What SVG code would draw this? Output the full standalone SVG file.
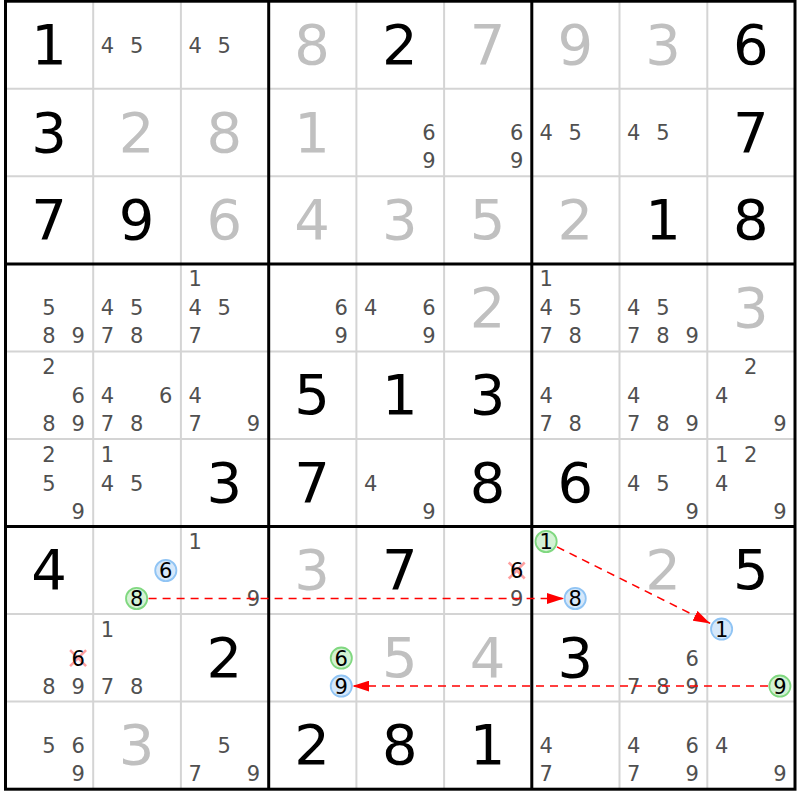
<svg xmlns="http://www.w3.org/2000/svg" width="800" height="800" viewBox="0 0 800 800">
<style>
text{font-family:"DejaVu Sans",Verdana,sans-serif;text-anchor:middle}
.g{font-size:56px;fill:#000}
.s{font-size:56px;fill:#c0c0c0}
.c{font-size:21px;fill:#505050}
.h{font-size:21px;fill:#000}
.gc{fill:#d4f2d4;stroke:#80d880;stroke-width:1.8}
.bc{fill:#d6e8fa;stroke:#90c4f4;stroke-width:1.8}
.x{stroke:#ff7f7f;stroke-width:2.5;opacity:0.75;fill:none}
.thin{stroke:#d4d4d4;stroke-width:2}
.thick{stroke:#000;stroke-width:3}
.link{stroke:#ff0000;stroke-width:1.5;stroke-dasharray:8,6;fill:none}
</style>
<defs>
<marker id="ah" markerWidth="17" markerHeight="11" refX="17" refY="5.5" orient="auto" markerUnits="userSpaceOnUse"><path d="M0,0 L17,5.5 L0,11 z" fill="#ff0000"/></marker>
</defs>
<rect width="800" height="800" fill="#fff"/>
<g id="grid">
<g class="thin">
<line x1="93.2" y1="1.2" x2="93.2" y2="789.2"/><line x1="180.9" y1="1.2" x2="180.9" y2="789.2"/>
<line x1="356.4" y1="1.2" x2="356.4" y2="789.2"/><line x1="444.1" y1="1.2" x2="444.1" y2="789.2"/>
<line x1="619.5" y1="1.2" x2="619.5" y2="789.2"/><line x1="707.3" y1="1.2" x2="707.3" y2="789.2"/>
<line x1="5.5" y1="88.8" x2="795" y2="88.8"/><line x1="5.5" y1="176.3" x2="795" y2="176.3"/>
<line x1="5.5" y1="351.4" x2="795" y2="351.4"/><line x1="5.5" y1="439" x2="795" y2="439"/>
<line x1="5.5" y1="614.1" x2="795" y2="614.1"/><line x1="5.5" y1="701.6" x2="795" y2="701.6"/>
</g>
<g class="thick">
<line x1="268.7" y1="1.2" x2="268.7" y2="789.2"/><line x1="531.8" y1="1.2" x2="531.8" y2="789.2"/>
<line x1="5.5" y1="263.9" x2="795" y2="263.9"/><line x1="5.5" y1="526.5" x2="795" y2="526.5"/>
<rect x="5.5" y="1.2" width="789.5" height="788" fill="none"/>
</g>
</g>

<g id="r0c0" transform="translate(5.5,1.2)"><text class="g" x="43.5" y="62.8">1</text></g>
<g id="r0c1" transform="translate(93.2,1.2)"><text class="c" x="14.3" y="51.6">4</text><text class="c" x="43.4" y="51.6">5</text></g>
<g id="r0c2" transform="translate(180.9,1.2)"><text class="c" x="14.3" y="51.6">4</text><text class="c" x="43.4" y="51.6">5</text></g>
<g id="r0c3" transform="translate(268.7,1.2)"><text class="s" x="43.5" y="62.8">8</text></g>
<g id="r0c4" transform="translate(356.4,1.2)"><text class="g" x="43.5" y="62.8">2</text></g>
<g id="r0c5" transform="translate(444.1,1.2)"><text class="s" x="43.5" y="62.8">7</text></g>
<g id="r0c6" transform="translate(531.8,1.2)"><text class="s" x="43.5" y="62.8">9</text></g>
<g id="r0c7" transform="translate(619.5,1.2)"><text class="s" x="43.5" y="62.8">3</text></g>
<g id="r0c8" transform="translate(707.3,1.2)"><text class="g" x="43.5" y="62.8">6</text></g>

<g id="r1c0" transform="translate(5.5,88.8)"><text class="g" x="43.5" y="62.8">3</text></g>
<g id="r1c1" transform="translate(93.2,88.8)"><text class="s" x="43.5" y="62.8">2</text></g>
<g id="r1c2" transform="translate(180.9,88.8)"><text class="s" x="43.5" y="62.8">8</text></g>
<g id="r1c3" transform="translate(268.7,88.8)"><text class="s" x="43.5" y="62.8">1</text></g>
<g id="r1c4" transform="translate(356.4,88.8)"><text class="c" x="72.6" y="51.6">6</text><text class="c" x="72.6" y="79.6">9</text></g>
<g id="r1c5" transform="translate(444.1,88.8)"><text class="c" x="72.6" y="51.6">6</text><text class="c" x="72.6" y="79.6">9</text></g>
<g id="r1c6" transform="translate(531.8,88.8)"><text class="c" x="14.3" y="51.6">4</text><text class="c" x="43.4" y="51.6">5</text></g>
<g id="r1c7" transform="translate(619.5,88.8)"><text class="c" x="14.3" y="51.6">4</text><text class="c" x="43.4" y="51.6">5</text></g>
<g id="r1c8" transform="translate(707.3,88.8)"><text class="g" x="43.5" y="62.8">7</text></g>

<g id="r2c0" transform="translate(5.5,176.3)"><text class="g" x="43.5" y="62.8">7</text></g>
<g id="r2c1" transform="translate(93.2,176.3)"><text class="g" x="43.5" y="62.8">9</text></g>
<g id="r2c2" transform="translate(180.9,176.3)"><text class="s" x="43.5" y="62.8">6</text></g>
<g id="r2c3" transform="translate(268.7,176.3)"><text class="s" x="43.5" y="62.8">4</text></g>
<g id="r2c4" transform="translate(356.4,176.3)"><text class="s" x="43.5" y="62.8">3</text></g>
<g id="r2c5" transform="translate(444.1,176.3)"><text class="s" x="43.5" y="62.8">5</text></g>
<g id="r2c6" transform="translate(531.8,176.3)"><text class="s" x="43.5" y="62.8">2</text></g>
<g id="r2c7" transform="translate(619.5,176.3)"><text class="g" x="43.5" y="62.8">1</text></g>
<g id="r2c8" transform="translate(707.3,176.3)"><text class="g" x="43.5" y="62.8">8</text></g>

<g id="r3c0" transform="translate(5.5,263.9)"><text class="c" x="43.4" y="51.6">5</text><text class="c" x="43.4" y="79.6">8</text><text class="c" x="72.6" y="79.6">9</text></g>
<g id="r3c1" transform="translate(93.2,263.9)"><text class="c" x="14.3" y="51.6">4</text><text class="c" x="43.4" y="51.6">5</text><text class="c" x="14.3" y="79.6">7</text><text class="c" x="43.4" y="79.6">8</text></g>
<g id="r3c2" transform="translate(180.9,263.9)"><text class="c" x="14.3" y="22.6">1</text><text class="c" x="14.3" y="51.6">4</text><text class="c" x="43.4" y="51.6">5</text><text class="c" x="14.3" y="79.6">7</text></g>
<g id="r3c3" transform="translate(268.7,263.9)"><text class="c" x="72.6" y="51.6">6</text><text class="c" x="72.6" y="79.6">9</text></g>
<g id="r3c4" transform="translate(356.4,263.9)"><text class="c" x="14.3" y="51.6">4</text><text class="c" x="72.6" y="51.6">6</text><text class="c" x="72.6" y="79.6">9</text></g>
<g id="r3c5" transform="translate(444.1,263.9)"><text class="s" x="43.5" y="62.8">2</text></g>
<g id="r3c6" transform="translate(531.8,263.9)"><text class="c" x="14.3" y="22.6">1</text><text class="c" x="14.3" y="51.6">4</text><text class="c" x="43.4" y="51.6">5</text><text class="c" x="14.3" y="79.6">7</text><text class="c" x="43.4" y="79.6">8</text></g>
<g id="r3c7" transform="translate(619.5,263.9)"><text class="c" x="14.3" y="51.6">4</text><text class="c" x="43.4" y="51.6">5</text><text class="c" x="14.3" y="79.6">7</text><text class="c" x="43.4" y="79.6">8</text><text class="c" x="72.6" y="79.6">9</text></g>
<g id="r3c8" transform="translate(707.3,263.9)"><text class="s" x="43.5" y="62.8">3</text></g>

<g id="r4c0" transform="translate(5.5,351.4)"><text class="c" x="43.4" y="22.6">2</text><text class="c" x="72.6" y="51.6">6</text><text class="c" x="43.4" y="79.6">8</text><text class="c" x="72.6" y="79.6">9</text></g>
<g id="r4c1" transform="translate(93.2,351.4)"><text class="c" x="14.3" y="51.6">4</text><text class="c" x="72.6" y="51.6">6</text><text class="c" x="14.3" y="79.6">7</text><text class="c" x="43.4" y="79.6">8</text></g>
<g id="r4c2" transform="translate(180.9,351.4)"><text class="c" x="14.3" y="51.6">4</text><text class="c" x="14.3" y="79.6">7</text><text class="c" x="72.6" y="79.6">9</text></g>
<g id="r4c3" transform="translate(268.7,351.4)"><text class="g" x="43.5" y="62.8">5</text></g>
<g id="r4c4" transform="translate(356.4,351.4)"><text class="g" x="43.5" y="62.8">1</text></g>
<g id="r4c5" transform="translate(444.1,351.4)"><text class="g" x="43.5" y="62.8">3</text></g>
<g id="r4c6" transform="translate(531.8,351.4)"><text class="c" x="14.3" y="51.6">4</text><text class="c" x="14.3" y="79.6">7</text><text class="c" x="43.4" y="79.6">8</text></g>
<g id="r4c7" transform="translate(619.5,351.4)"><text class="c" x="14.3" y="51.6">4</text><text class="c" x="14.3" y="79.6">7</text><text class="c" x="43.4" y="79.6">8</text><text class="c" x="72.6" y="79.6">9</text></g>
<g id="r4c8" transform="translate(707.3,351.4)"><text class="c" x="43.4" y="22.6">2</text><text class="c" x="14.3" y="51.6">4</text><text class="c" x="72.6" y="79.6">9</text></g>

<g id="r5c0" transform="translate(5.5,439)"><text class="c" x="43.4" y="22.6">2</text><text class="c" x="43.4" y="51.6">5</text><text class="c" x="72.6" y="79.6">9</text></g>
<g id="r5c1" transform="translate(93.2,439)"><text class="c" x="14.3" y="22.6">1</text><text class="c" x="14.3" y="51.6">4</text><text class="c" x="43.4" y="51.6">5</text></g>
<g id="r5c2" transform="translate(180.9,439)"><text class="g" x="43.5" y="62.8">3</text></g>
<g id="r5c3" transform="translate(268.7,439)"><text class="g" x="43.5" y="62.8">7</text></g>
<g id="r5c4" transform="translate(356.4,439)"><text class="c" x="14.3" y="51.6">4</text><text class="c" x="72.6" y="79.6">9</text></g>
<g id="r5c5" transform="translate(444.1,439)"><text class="g" x="43.5" y="62.8">8</text></g>
<g id="r5c6" transform="translate(531.8,439)"><text class="g" x="43.5" y="62.8">6</text></g>
<g id="r5c7" transform="translate(619.5,439)"><text class="c" x="14.3" y="51.6">4</text><text class="c" x="43.4" y="51.6">5</text><text class="c" x="72.6" y="79.6">9</text></g>
<g id="r5c8" transform="translate(707.3,439)"><text class="c" x="14.3" y="22.6">1</text><text class="c" x="43.4" y="22.6">2</text><text class="c" x="14.3" y="51.6">4</text><text class="c" x="72.6" y="79.6">9</text></g>

<g id="r6c0" transform="translate(5.5,526.5)"><text class="g" x="43.5" y="62.8">4</text></g>
<g id="r6c1" transform="translate(93.2,526.5)"><circle class="bc" cx="72.6" cy="44" r="10.6"/><text class="h" x="72.6" y="51.6">6</text><circle class="gc" cx="43.4" cy="72" r="10.6"/><text class="h" x="43.4" y="79.6">8</text></g>
<g id="r6c2" transform="translate(180.9,526.5)"><text class="c" x="14.3" y="22.6">1</text><text class="c" x="72.6" y="79.6">9</text></g>
<g id="r6c3" transform="translate(268.7,526.5)"><text class="s" x="43.5" y="62.8">3</text></g>
<g id="r6c4" transform="translate(356.4,526.5)"><text class="g" x="43.5" y="62.8">7</text></g>
<g id="r6c5" transform="translate(444.1,526.5)"><path class="x" d="M64.6,36 L80.6,52 M80.6,36 L64.6,52"/><text class="h" x="72.6" y="51.6">6</text><text class="c" x="72.6" y="79.6">9</text></g>
<g id="r6c6" transform="translate(531.8,526.5)"><circle class="gc" cx="14.3" cy="15" r="10.6"/><text class="h" x="14.3" y="22.6">1</text><circle class="bc" cx="43.4" cy="72" r="10.6"/><text class="h" x="43.4" y="79.6">8</text></g>
<g id="r6c7" transform="translate(619.5,526.5)"><text class="s" x="43.5" y="62.8">2</text></g>
<g id="r6c8" transform="translate(707.3,526.5)"><text class="g" x="43.5" y="62.8">5</text></g>

<g id="r7c0" transform="translate(5.5,614.1)"><path class="x" d="M64.6,36 L80.6,52 M80.6,36 L64.6,52"/><text class="h" x="72.6" y="51.6">6</text><text class="c" x="43.4" y="79.6">8</text><text class="c" x="72.6" y="79.6">9</text></g>
<g id="r7c1" transform="translate(93.2,614.1)"><text class="c" x="14.3" y="22.6">1</text><text class="c" x="14.3" y="79.6">7</text><text class="c" x="43.4" y="79.6">8</text></g>
<g id="r7c2" transform="translate(180.9,614.1)"><text class="g" x="43.5" y="62.8">2</text></g>
<g id="r7c3" transform="translate(268.7,614.1)"><circle class="gc" cx="72.6" cy="44" r="10.6"/><text class="h" x="72.6" y="51.6">6</text><circle class="bc" cx="72.6" cy="72" r="10.6"/><text class="h" x="72.6" y="79.6">9</text></g>
<g id="r7c4" transform="translate(356.4,614.1)"><text class="s" x="43.5" y="62.8">5</text></g>
<g id="r7c5" transform="translate(444.1,614.1)"><text class="s" x="43.5" y="62.8">4</text></g>
<g id="r7c6" transform="translate(531.8,614.1)"><text class="g" x="43.5" y="62.8">3</text></g>
<g id="r7c7" transform="translate(619.5,614.1)"><text class="c" x="72.6" y="51.6">6</text><text class="c" x="14.3" y="79.6">7</text><text class="c" x="43.4" y="79.6">8</text><text class="c" x="72.6" y="79.6">9</text></g>
<g id="r7c8" transform="translate(707.3,614.1)"><circle class="bc" cx="14.3" cy="15" r="10.6"/><text class="h" x="14.3" y="22.6">1</text><circle class="gc" cx="72.6" cy="72" r="10.6"/><text class="h" x="72.6" y="79.6">9</text></g>

<g id="r8c0" transform="translate(5.5,701.6)"><text class="c" x="43.4" y="51.6">5</text><text class="c" x="72.6" y="51.6">6</text><text class="c" x="72.6" y="79.6">9</text></g>
<g id="r8c1" transform="translate(93.2,701.6)"><text class="s" x="43.5" y="62.8">3</text></g>
<g id="r8c2" transform="translate(180.9,701.6)"><text class="c" x="43.4" y="51.6">5</text><text class="c" x="14.3" y="79.6">7</text><text class="c" x="72.6" y="79.6">9</text></g>
<g id="r8c3" transform="translate(268.7,701.6)"><text class="g" x="43.5" y="62.8">2</text></g>
<g id="r8c4" transform="translate(356.4,701.6)"><text class="g" x="43.5" y="62.8">8</text></g>
<g id="r8c5" transform="translate(444.1,701.6)"><text class="g" x="43.5" y="62.8">1</text></g>
<g id="r8c6" transform="translate(531.8,701.6)"><text class="c" x="14.3" y="51.6">4</text><text class="c" x="14.3" y="79.6">7</text></g>
<g id="r8c7" transform="translate(619.5,701.6)"><text class="c" x="14.3" y="51.6">4</text><text class="c" x="72.6" y="51.6">6</text><text class="c" x="14.3" y="79.6">7</text><text class="c" x="72.6" y="79.6">9</text></g>
<g id="r8c8" transform="translate(707.3,701.6)"><text class="c" x="14.3" y="51.6">4</text><text class="c" x="72.6" y="79.6">9</text></g>

<g id="connectors">
<line class="link" x1="148.6" y1="598.5" x2="564" y2="598.5" marker-end="url(#ah)"/>
<line class="link" x1="557" y1="546.9" x2="710.2" y2="623.4" marker-end="url(#ah)"/>
<line class="link" x1="768" y1="686.1" x2="352.3" y2="686.1" marker-end="url(#ah)"/>
</g>
</svg>
